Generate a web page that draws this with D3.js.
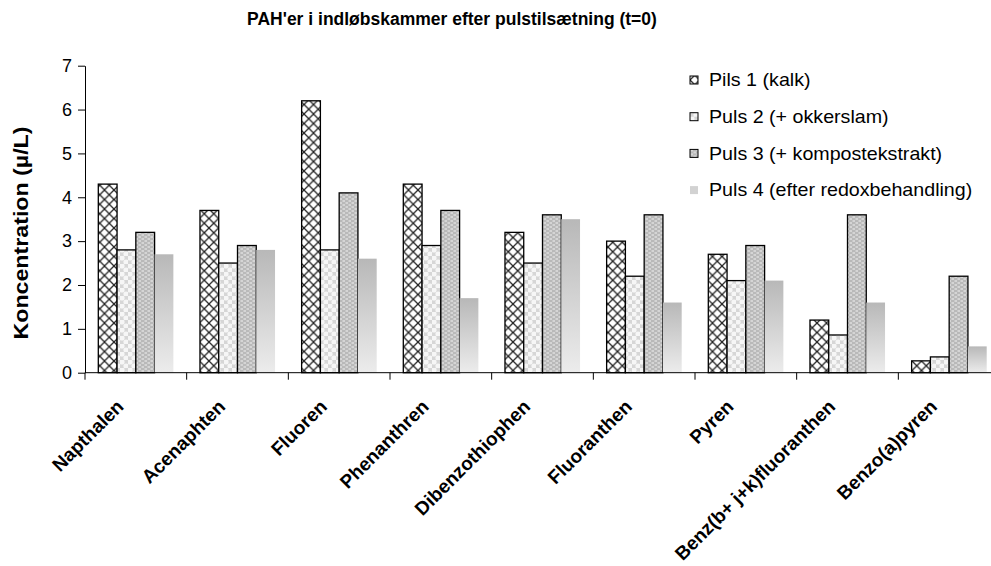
<!DOCTYPE html>
<html>
<head>
<meta charset="utf-8">
<script src="https://cdn.jsdelivr.net/npm/d3@7"></script>
<style>
  html, body { margin: 0; padding: 0; background: #fff; }
  svg { display: block; font-family: Arial, "Liberation Sans", sans-serif; }
</style>
</head>
<body>
<svg id="chart" width="991" height="566"></svg>
<script>
// PAH concentrations per compound, one array per pulse
const categories = ["Napthalen", "Acenaphten", "Fluoren", "Phenanthren", "Dibenzothiophen",
  "Fluoranthen", "Pyren", "Benz(b+ j+k)fluoranthen", "Benzo(a)pyren"];
const seriesNames = ["Pils 1 (kalk)", "Puls 2 (+ okkerslam)", "Puls 3 (+ kompostekstrakt)", "Puls 4 (efter redoxbehandling)"];
const puls1 = [4.3, 3.7, 6.2, 4.3, 3.2, 3.0, 2.7, 1.2, 0.27];
const puls2 = [2.8, 2.5, 2.8, 2.9, 2.5, 2.2, 2.1, 0.86, 0.36];
const puls3 = [3.2, 2.9, 4.1, 3.7, 3.6, 3.6, 2.9, 3.6, 2.2];
const puls4 = [2.7, 2.8, 2.6, 1.7, 3.5, 1.6, 2.1, 1.6, 0.6];
const yTicks = [0, 1, 2, 3, 4, 5, 6, 7];

const seriesValues = [puls1, puls2, puls3, puls4];

const svg = d3.select("#chart");
const defs = svg.append("defs");

// Fill patterns for the bars
const pDiamond = defs.append("pattern").attr("id", "fill0")
  .attr("patternUnits", "userSpaceOnUse").attr("width", 9.5).attr("height", 9.5);
pDiamond.append("rect").attr("width", 9.5).attr("height", 9.5).attr("fill", "#fff");
pDiamond.append("path").attr("d", "M0,0L9.5,9.5M9.5,0L0,9.5")
  .attr("stroke", "#222").attr("stroke-width", 1.3);

const pCircle = defs.append("pattern").attr("id", "fill1")
  .attr("patternUnits", "userSpaceOnUse").attr("width", 8).attr("height", 8);
pCircle.append("rect").attr("width", 8).attr("height", 8).attr("fill", "#d6d6d6");
pCircle.append("circle").attr("cx", 2).attr("cy", 2).attr("r", 2.6).attr("fill", "#f6f6f6");
pCircle.append("circle").attr("cx", 6).attr("cy", 6).attr("r", 2.6).attr("fill", "#f6f6f6");

const pDash = defs.append("pattern").attr("id", "fill2")
  .attr("patternUnits", "userSpaceOnUse").attr("width", 6).attr("height", 4);
pDash.append("rect").attr("width", 6).attr("height", 4).attr("fill", "#b9b9b9");
pDash.append("rect").attr("x", 0.5).attr("y", 0.5).attr("width", 2.5).attr("height", 1).attr("fill", "#f2f2f2");
pDash.append("rect").attr("x", 3.5).attr("y", 2.5).attr("width", 2.5).attr("height", 1).attr("fill", "#f2f2f2");

const grad = defs.append("linearGradient").attr("id", "fill3")
  .attr("x1", 0).attr("y1", 0).attr("x2", 0).attr("y2", 1);
grad.append("stop").attr("offset", "0%").attr("stop-color", "#b8b8b8");
grad.append("stop").attr("offset", "100%").attr("stop-color", "#ececec");

const fills = ["url(#fill0)", "url(#fill1)", "url(#fill2)", "url(#fill3)"];
const strokes = ["#000", "#000", "#000", "none"];

const plotLeft = 85, plotRight = 1000, plotTop = 65.7, plotBottom = 372.7;

const x = d3.scaleBand().domain(categories).range([plotLeft, plotRight]).paddingInner(0).paddingOuter(0);
const groupPad = 13.3;
const xs = d3.scaleBand().domain(d3.range(4))
  .range([groupPad, x.bandwidth() - groupPad]).padding(0);
const y = d3.scaleLinear().domain([0, 7]).range([plotBottom, plotTop]);

// Title
svg.append("text").attr("x", 452).attr("y", 25).attr("text-anchor", "middle")
  .attr("font-weight", "bold").attr("font-size", 17.5)
  .text("PAH'er i indløbskammer efter pulstilsætning (t=0)");

// Bars
seriesValues.forEach((vals, s) => {
  svg.append("g").selectAll("rect").data(vals).join("rect")
    .attr("x", (d, i) => x(categories[i]) + xs(s))
    .attr("y", d => y(d))
    .attr("width", xs.bandwidth())
    .attr("height", d => y(0) - y(d))
    .attr("fill", fills[s])
    .attr("stroke", strokes[s])
    .attr("stroke-width", 1.3);
});

// Y axis
const yAxis = svg.append("g").attr("transform", `translate(${plotLeft},0)`)
  .call(d3.axisLeft(y).tickValues(yTicks).tickFormat(d3.format("d")).tickSize(7).tickSizeOuter(0).tickPadding(6));
yAxis.select(".domain").attr("stroke", "#000");
yAxis.selectAll("line").attr("stroke", "#000");
yAxis.selectAll("text").attr("font-size", 18).attr("fill", "#000")
  .attr("font-family", "Arial, 'Liberation Sans', sans-serif");

// X axis with ticks on category boundaries
const xAxis = svg.append("g").attr("transform", `translate(0,${plotBottom})`);
xAxis.append("line").attr("x1", plotLeft).attr("x2", plotRight).attr("stroke", "#000");
const boundaries = categories.map(c => x(c)).concat([plotRight]);
xAxis.selectAll("line.tick").data(boundaries).join("line").attr("class", "tick")
  .attr("x1", d => d).attr("x2", d => d).attr("y1", 0).attr("y2", 7).attr("stroke", "#000");
xAxis.selectAll("text").data(categories).join("text")
  .attr("transform", d => `translate(${x(d) + x.bandwidth() / 2 - 11},${35}) rotate(-45)`)
  .attr("text-anchor", "end")
  .attr("font-weight", "bold").attr("font-size", 19)
  .text(d => d);

// Y axis title
svg.append("text").attr("transform", `translate(28,233) rotate(-90)`)
  .attr("text-anchor", "middle").attr("font-weight", "bold").attr("font-size", 20.5)
  .attr("textLength", 213).attr("lengthAdjust", "spacingAndGlyphs")
  .text("Koncentration (µ/L)");

// Legend
const legend = svg.append("g").selectAll("g").data(seriesNames).join("g")
  .attr("transform", (d, i) => `translate(690,${80 + i * 36.7})`);
legend.append("rect").attr("x", 0).attr("y", -4).attr("width", 8).attr("height", 8)
  .attr("fill", (d, i) => i === 3 ? "#d2d2d2" : fills[i])
  .attr("stroke", (d, i) => strokes[i]).attr("stroke-width", 1);
legend.append("text").attr("transform", "translate(19,0) scale(1.08,1)").attr("dy", "0.35em")
  .attr("font-size", 18.2).text(d => d);
</script>
</body>
</html>
